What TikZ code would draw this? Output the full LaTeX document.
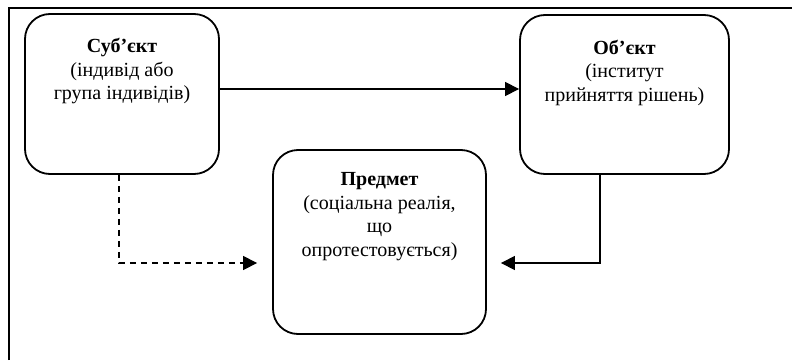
\documentclass[tikz,border=0pt]{standalone}
\usepackage{fontspec}
\setmainfont{Liberation Serif}
\usetikzlibrary{positioning, arrows.meta}
\tikzstyle{block} = [rectangle, rounded corners=25pt, draw=black, line width=1.8pt]
\tikzstyle{txt} = [text centered, align=center, font=\fontsize{20}{23.5}\selectfont]
\tikzstyle{arrow} = [line width=1.2pt, -{Triangle[length=14pt,width=14pt]}]

\begin{document}
\begin{tikzpicture}[x=1pt, y=1pt]
\useasboundingbox (0,0) rectangle (792,360);
\draw [line width=2.5pt] (9,0) -- (9,352) -- (792,352);
\node (subj) [block, minimum width=194pt, minimum height=160pt] at (122,266) {};
\node (obj) [block, minimum width=209pt, minimum height=159pt] at (624.5,265.5) {};
\node (pred) [block, minimum width=213pt, minimum height=184pt] at (379.5,118) {};
\node (subj_txt) [txt] at ([yshift=23]subj) {\textbf{Суб’єкт}\\(індивід або\\група індивідів)};
\node (obj_txt) [txt] at ([yshift=22]obj) {\textbf{Об’єкт}\\(інститут\\прийняття рішень)};
\node (pred_txt) [txt] at ([yshift=25.5]pred) {\textbf{Предмет}\\(соціальна реалія,\\що\\опротестовується)};
\coordinate (dash_end) at ([xshift=-15,yshift=-21]pred.west);
\coordinate (solid_end) at ([xshift=14,yshift=-21]pred.east);
\draw [arrow] ([yshift=5]subj.east) -- ([yshift=5]subj.east -| obj.west);
\draw [arrow, dashed, dash pattern=on 6pt off 5pt] ([xshift=-3]subj.south) |- (dash_end);
\draw [arrow] ([xshift=-24.5]obj.south) |- (solid_end);
\end{tikzpicture}
\end{document}
